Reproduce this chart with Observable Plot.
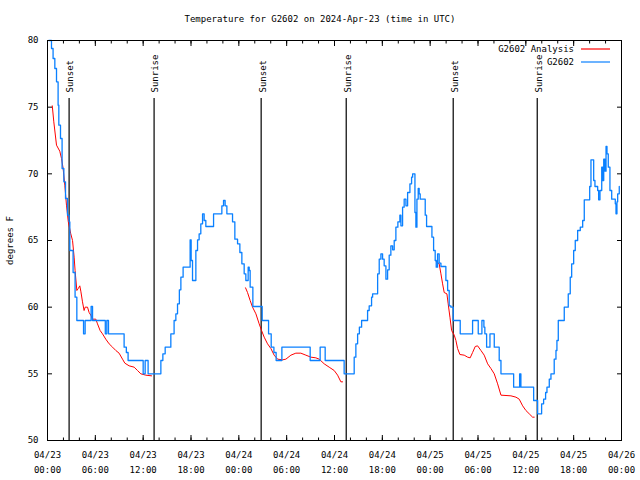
<!DOCTYPE html>
<html><head><meta charset="utf-8">
<script src="https://cdn.jsdelivr.net/npm/d3@7"></script>
<script src="https://cdn.jsdelivr.net/npm/@observablehq/plot@0.6"></script>
<style>body{margin:0;background:#fff} svg{display:block}</style>
</head><body><div id="chart"></div>
<script>
// time values are hours after 2024-04-23 00:00 UTC
const titleText = "Temperature for G2602 on 2024-Apr-23 (time in UTC)";
const yLabel = "degrees F";
const seriesNames = ["G2602 Analysis", "G2602"];
const seriesColors = ["#ff0000", "#0a80ff"];
const yTicks = [50, 55, 60, 65, 70, 75, 80];
const majorTickHours = [0, 6, 12, 18, 24, 30, 36, 42, 48, 54, 60, 66, 72];
const minorTickHours = d3.range(0, 73, 2);
const sunEventHours = [2.71, 13.37, 26.8, 37.47, 50.89, 61.43];
const sunEventLabels = ["Sunset", "Sunrise", "Sunset", "Sunrise", "Sunset", "Sunrise"];

const observedReadings = [
[0.16,80.0],[0.5,79.4],[0.7,78.65],[0.92,77.9],[1.13,76.9],[1.33,75.15],[1.42,73.65],[1.63,72.65],[1.83,70.4],[2.05,69.4],
[2.26,68.15],[2.51,66.9],[2.71,66.4],[2.8,64.25],[3.21,62.6],[3.46,60.75],[3.68,59.0],[4.27,59.0],[4.52,58.0],[4.72,59.0],
[5.31,59.0],[5.47,60.05],[5.65,59.0],[7.1,59.0],[7.25,58.0],[7.44,59.0],[7.65,58.0],[9.49,58.0],[9.61,57.0],[9.89,56.6],
[10.11,56.0],[11.83,56.0],[12.0,55.0],[12.25,56.0],[12.52,56.0],[12.62,55.0],[14.0,55.0],[14.22,56.0],[14.47,56.5],[14.76,57.0],
[15.26,57.0],[15.47,58.0],[15.88,59.0],[16.1,59.5],[16.31,60.25],[16.54,61.3],[16.73,62.25],[17.01,63.0],[17.77,63.0],[17.89,65.05],
[18.02,63.5],[18.19,62.0],[18.52,62.0],[18.61,64.25],[18.82,65.05],[19.02,65.5],[19.23,66.25],[19.45,67.0],[19.65,66.5],[19.86,66.05],
[20.58,66.05],[20.83,67.0],[21.66,67.0],[21.87,67.6],[22.08,68.0],[22.28,67.6],[22.5,67.0],[23.09,67.0],[23.21,66.4],[23.5,65.1],
[23.84,64.75],[24.13,64.1],[24.38,63.25],[24.67,62.5],[24.88,62.0],[25.17,63.0],[25.3,62.75],[25.42,61.5],[25.76,60.05],[26.8,60.05],
[26.93,59.0],[27.52,59.0],[27.73,58.0],[28.06,57.0],[28.4,56.6],[28.68,56.0],[29.18,56.0],[29.4,57.0],[32.87,57.0],[32.95,56.0],
[34.0,56.0],[34.2,57.0],[34.7,57.0],[34.83,56.0],[37.05,56.0],[37.21,55.0],[38.27,55.0],[38.47,56.25],[38.68,57.25],[38.9,58.0],
[39.12,58.5],[39.4,59.0],[40.06,59.0],[40.15,59.75],[40.35,60.1],[40.65,60.75],[40.78,61.0],[41.32,61.0],[41.41,62.5],[41.61,63.6],
[41.82,64.0],[42.03,63.6],[42.23,63.1],[42.45,62.1],[42.66,62.8],[42.86,63.9],[43.07,64.6],[43.29,64.3],[43.49,65.0],[43.7,66.0],
[43.95,66.4],[44.2,66.9],[44.33,66.1],[44.54,67.5],[44.74,68.1],[44.96,67.6],[45.17,68.6],[45.46,69.25],[45.67,69.75],[45.8,70.0],
[46.0,70.0],[46.09,67.1],[46.21,66.0],[46.34,68.1],[46.5,68.9],[46.62,68.5],[46.75,68.1],[47.25,68.1],[47.38,66.9],[47.55,66.05],
[48.0,66.05],[48.22,65.25],[48.43,64.25],[48.63,63.5],[48.76,63.0],[48.93,64.0],[49.13,63.3],[49.35,63.05],[49.76,63.05],[49.97,62.0],
[50.19,61.25],[50.39,60.1],[50.6,60.0],[50.89,59.0],[51.52,59.0],[51.77,58.0],[53.11,58.0],[53.32,59.0],[53.95,59.0],[54.03,58.0],
[54.36,58.0],[54.49,59.0],[54.74,58.5],[54.86,58.0],[55.08,57.0],[55.33,57.0],[55.5,58.0],[55.96,58.0],[56.04,57.0],[56.46,57.0],
[56.66,56.0],[56.88,55.0],[58.22,55.0],[58.47,54.0],[59.05,54.0],[59.22,55.0],[59.38,54.0],[60.85,54.0],[60.98,53.0],[61.39,53.0],
[61.48,52.0],[61.81,52.0],[61.98,52.75],[62.23,53.1],[62.48,53.6],[62.65,54.0],[62.94,54.6],[63.15,55.0],[63.56,56.1],[63.78,56.75],
[63.9,57.5],[64.07,59.0],[64.62,59.0],[64.82,60.0],[65.16,60.0],[65.32,61.0],[65.57,62.25],[65.75,63.25],[66.0,64.25],[66.2,65.0],
[66.5,65.75],[66.83,66.0],[67.13,66.5],[67.33,68.05],[67.83,68.05],[68.01,69.05],[68.17,71.05],[68.38,71.05],[68.51,69.5],[68.67,69.05],
[69.01,68.75],[69.13,68.05],[69.3,68.75],[69.52,70.5],[69.64,69.5],[69.77,71.1],[69.93,70.2],[70.06,72.05],[70.18,71.5],[70.34,70.5],
[70.55,68.75],[70.77,68.1],[71.1,68.1],[71.22,67.75],[71.31,67.0],[71.43,67.9],[71.52,68.5],[71.72,69.05]
];

const analysisNight1 = [
[0.6,75.1],[0.79,73.9],[1.13,72.15],[1.54,71.7],[1.76,71.15],[1.96,70.4],[2.17,69.15],[2.38,67.65],[2.61,66.4],[2.92,65.5],
[3.14,65.0],[3.34,63.75],[3.46,62.75],[3.68,61.25],[3.86,61.4],[4.05,61.6],[4.18,61.2],[4.39,60.4],[4.59,59.75],[4.72,60.0],
[5.02,60.0],[5.22,59.6],[5.43,59.4],[5.65,59.1],[6.06,59.1],[6.27,58.75],[6.6,58.25],[6.9,58.0],[7.31,57.6],[7.73,57.25],
[8.16,57.0],[8.57,56.75],[8.98,56.55],[9.41,56.1],[9.7,55.8],[10.24,55.6],[10.87,55.5],[11.29,55.25],[11.71,55.0],[12.33,54.9],[13.05,54.85]
];
const analysisNight2 = [
[24.84,61.45],[25.09,61.1],[25.42,60.5],[25.72,60.0],[26.14,59.5],[26.55,58.75],[26.85,58.25],[27.18,57.75],[27.6,57.25],[28.02,56.9],
[28.43,56.4],[28.86,56.1],[29.49,56.05],[29.9,56.1],[30.53,56.4],[31.15,56.55],[31.78,56.55],[32.41,56.4],[33.04,56.25],[33.66,56.2],
[34.08,56.1],[34.71,55.75],[35.33,55.5],[35.96,55.25],[36.39,54.9],[36.8,54.4],[37.01,54.4]
];
const analysisNight3 = [
[48.72,63.45],[49.13,63.25],[49.35,62.5],[49.56,61.75],[49.76,61.1],[50.1,61.0],[50.26,60.25],[50.48,59.25],[50.69,58.25],[51.02,57.9],
[51.23,57.5],[51.44,56.9],[51.73,56.45],[52.27,56.4],[52.7,56.25],[53.02,56.2],[53.32,56.6],[53.65,57.05],[53.95,57.1],[54.37,56.75],
[54.78,56.4],[55.21,55.75],[55.62,55.4],[56.04,55.0],[56.46,54.25],[56.88,53.4],[58.13,53.35],[58.76,53.25],[59.17,53.1],[59.6,52.6],
[60.01,52.25],[60.43,52.0],[60.85,51.75],[61.05,51.75]
];

const startUTC = Date.UTC(2024, 3, 23);
const toDate = h => new Date(startUTC + h * 3600000);
const observed = observedReadings.map(([h, v]) => ({t: toDate(h), v}));
const analysis = [analysisNight1, analysisNight2, analysisNight3]
  .flatMap((night, n) => night.map(([h, v]) => ({t: toDate(h), v, night: n})));
const sunEvents = sunEventHours.map((h, i) => ({t: toDate(h), label: sunEventLabels[i]}));
const majorTicks = majorTickHours.map(toDate);
const minorTicks = minorTickHours.map(toDate);
const fmtDate = d3.utcFormat("%m/%d"), fmtTime = d3.utcFormat("%H:%M");

const font = "'DejaVu Sans Mono', 'Liberation Mono', monospace";
const plot = Plot.plot({
  width: 640, height: 480,
  marginLeft: 47, marginRight: 19, marginTop: 40, marginBottom: 40,
  style: {fontFamily: font, fontSize: "9px", color: "#000", background: "#fff", overflow: "visible"},
  x: {type: "utc", domain: [toDate(0), toDate(72)]},
  y: {domain: [50, 80]},
  marks: [
    Plot.ruleX(sunEvents, {x: "t", insetTop: 58, stroke: "#000", strokeWidth: 1.2}),
    Plot.text(sunEvents, {x: "t", text: "label", frameAnchor: "top", dy: 52, dx: -2, rotate: -90, textAnchor: "start", fill: "#000"}),
    Plot.line(analysis, {x: "t", y: "v", z: "night", stroke: seriesColors[0], strokeWidth: 1}),
    Plot.line(observed, {x: "t", y: "v", stroke: seriesColors[1], strokeWidth: 1.3, curve: "step-after"}),
    Plot.frame({stroke: "#000"}),
    Plot.axisY(yTicks, {tickSize: 0, tickPadding: 9, label: yLabel, labelAnchor: "center", labelOffset: 41, labelArrow: "none"}),
    Plot.axisY(yTicks, {tickSize: -5, fill: "none", label: null}),
    Plot.axisY(yTicks, {anchor: "right", tickSize: -5, fill: "none", label: null}),
    Plot.axisX(majorTicks, {tickSize: 0, tickPadding: 6, tickFormat: d => fmtDate(d) + "\n" + fmtTime(d), lineHeight: 1.75, label: null}),
    Plot.axisX(majorTicks, {tickSize: -5, fill: "none", label: null}),
    Plot.axisX(minorTicks, {tickSize: -2.5, fill: "none", label: null}),
    Plot.axisX(majorTicks, {anchor: "top", tickSize: -5, fill: "none", label: null}),
    Plot.axisX(minorTicks, {anchor: "top", tickSize: -2.5, fill: "none", label: null})
  ]
});

const svg = d3.select(plot);
svg.append("text").attr("x", 320).attr("y", 19).attr("text-anchor", "middle")
  .attr("dominant-baseline", "middle").attr("fill", "#000").text(titleText);
const legend = svg.append("g").attr("font-family", font).attr("font-size", 9);
seriesNames.forEach((name, i) => {
  const yy = 49 + i * 13;
  legend.append("text").attr("x", 574).attr("y", yy).attr("text-anchor", "end")
    .attr("dominant-baseline", "middle").attr("fill", "#000").text(name);
  legend.append("line").attr("x1", 581).attr("x2", 610).attr("y1", yy).attr("y2", yy)
    .attr("stroke", seriesColors[i]).attr("stroke-width", 1.2);
});
document.getElementById("chart").appendChild(plot);
</script>
</body></html>
